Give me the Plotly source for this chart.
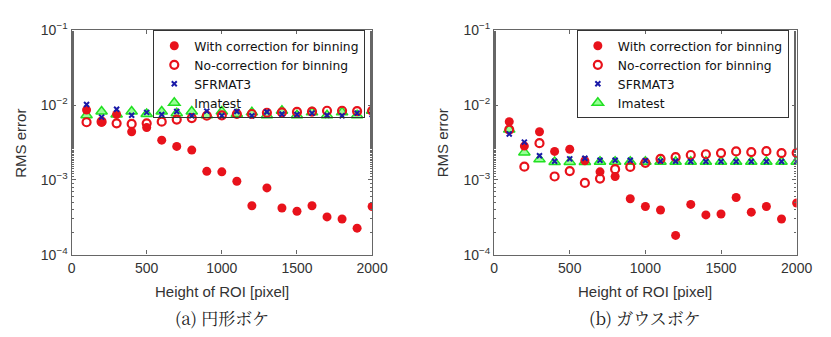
import plotly.graph_objects as go

heights = [100, 200, 300, 400, 500, 600, 700, 800, 900, 1000,
           1100, 1200, 1300, 1400, 1500, 1600, 1700, 1800, 1900, 2000]

# (a) circular blur
a_with = [0.0086, 0.0059, 0.0075, 0.0044, 0.0050, 0.0034, 0.0028, 0.0025, 0.0013, 0.00128,
          0.00096, 0.00045, 0.00078, 0.00042, 0.00038, 0.00045, 0.00032, 0.00030, 0.000226, 0.00044]
a_nocorr = [0.0059, 0.0060, 0.0057, 0.0056, 0.0057, 0.0060, 0.0064, 0.0067, 0.0072, 0.0073,
            0.0076, 0.0076, 0.0079, 0.0080, 0.0081, 0.0082, 0.0084, 0.0084, 0.0083, 0.0084]
a_sfr = [0.0102, 0.0069, 0.0088, 0.0073, 0.0080, 0.0075, 0.0082, 0.0072, 0.0083, 0.0072,
         0.0082, 0.0072, 0.0081, 0.0076, 0.0075, 0.0078, 0.0073, 0.0072, 0.0078, 0.0075]
a_ima = [0.0073, 0.0082, 0.0075, 0.0082, 0.0076, 0.0082, 0.0078, 0.0082, 0.0073, 0.0082,
         0.0076, 0.0080, 0.0073, 0.0084, 0.0073, 0.0080, 0.0073, 0.0080, 0.0073, 0.0084]

# (b) gaussian blur
b_with = [0.0060, 0.00283, 0.0044, 0.0024, 0.00257, 0.0018, 0.00128, 0.00111, 0.00056, 0.00044,
          0.000395, 0.000181, 0.00047, 0.00034, 0.00035, 0.00058, 0.00037, 0.00044, 0.00030, 0.00049]
b_nocorr = [0.0047, 0.0015, 0.0031, 0.00111, 0.00131, 0.00091, 0.00104, 0.00139, 0.00149, 0.00169,
            0.00191, 0.00201, 0.00215, 0.00220, 0.00228, 0.00240, 0.00235, 0.00242, 0.00228, 0.00230]
b_sfr = [0.0041, 0.0032, 0.0021, 0.00177, 0.00191, 0.00195, 0.00183, 0.00183, 0.00183, 0.00181,
         0.00178, 0.00177, 0.00176, 0.00176, 0.00176, 0.00176, 0.00176, 0.00176, 0.00176, 0.00176]
b_ima = [0.0047, 0.00233, 0.00188, 0.00174, 0.00174, 0.00174, 0.00175, 0.00175, 0.00175, 0.00175,
         0.00175, 0.00175, 0.00175, 0.00175, 0.00175, 0.00175, 0.00175, 0.00175, 0.00175, 0.00175]

series_names = ["With correction for binning", "No-correction for binning", "SFRMAT3", "Imatest"]
captions = ["(a) 円形ボケ", "(b) ガウスボケ"]
x_title = "Height of ROI [pixel]"
y_title = "RMS error"
y_tickvals = [1e-4, 1e-3, 1e-2, 1e-1]
y_ticktext = ["10<sup>−4</sup>", "10<sup>−3</sup>", "10<sup>−2</sup>", "10<sup>−1</sup>"]
x_tickvals = [0, 500, 1000, 1500, 2000]

RED = "#e8121b"
BLUE = "#1a1aa8"
GREEN = "#22e022"
TICKFONT = dict(family="Liberation Sans Narrow, Liberation Sans, Arial", size=14, color="#333")
LEGFONT = dict(family="DejaVu Sans, Liberation Sans, Arial", size=12.3, color="#111")

fig = go.Figure()

panels = [
    (a_with, a_nocorr, a_sfr, a_ima, "x", "y", "legend"),
    (b_with, b_nocorr, b_sfr, b_ima, "x2", "y2", "legend2"),
]

for (w, n, s, im, xa, ya, leg) in panels:
    fig.add_trace(go.Scatter(x=heights, y=im, mode="markers", name=series_names[3],
                             xaxis=xa, yaxis=ya, legend=leg, legendrank=4,
                             marker=dict(symbol="triangle-up", size=10, color="rgba(140,255,140,0.9)",
                                         line=dict(color=GREEN, width=1.5))))
    fig.add_trace(go.Scatter(x=heights, y=w, mode="markers", name=series_names[0],
                             xaxis=xa, yaxis=ya, legend=leg, legendrank=1,
                             marker=dict(symbol="circle", size=9, color=RED,
                                         line=dict(color=RED, width=0))))
    fig.add_trace(go.Scatter(x=heights, y=n, mode="markers", name=series_names[1],
                             xaxis=xa, yaxis=ya, legend=leg, legendrank=2,
                             marker=dict(symbol="circle-open", size=8, color=RED,
                                         line=dict(color=RED, width=2.2))))
    fig.add_trace(go.Scatter(x=heights, y=s, mode="markers", name=series_names[2],
                             xaxis=xa, yaxis=ya, legend=leg, legendrank=3,
                             marker=dict(symbol="x-thin", size=5, color=BLUE,
                                         line=dict(color=BLUE, width=2))))

W, H = 831, 337
OFF = 8  # page body margin offsets the figure in the screenshot
def px(x):
    return (x - OFF) / W
def py(y):
    return (H - (y - OFF)) / H

xaxis_common = dict(range=[0, 2000], tickvals=x_tickvals, ticks="inside", ticklen=4,
                    showline=True, linecolor="#666", linewidth=1.3, mirror="ticks",
                    tickcolor="#666", showgrid=False, zeroline=False, tickfont=TICKFONT)
yaxis_common = dict(type="log", range=[-4, -1], tickvals=y_tickvals, ticktext=y_ticktext,
                    ticks="inside", ticklen=4, showline=True, linecolor="#666", linewidth=1.3,
                    mirror="ticks", tickcolor="#666", showgrid=False, zeroline=False,
                    tickfont=TICKFONT,
                    minor=dict(ticks="inside", ticklen=2, tickcolor="#666", showgrid=False))

leg_common = dict(xanchor="right", yanchor="top", bordercolor="#333", borderwidth=1,
                  bgcolor="rgba(255,255,255,0)", font=LEGFONT, tracegroupgap=0, itemwidth=30)

fig.update_layout(
    width=W, height=H,
    margin=dict(l=0, r=0, t=0, b=0),
    paper_bgcolor="white", plot_bgcolor="white",
    xaxis=dict(xaxis_common, domain=[px(69), px(377)], anchor="y"),
    yaxis=dict(yaxis_common, domain=[py(258), py(21)], anchor="x"),
    xaxis2=dict(xaxis_common, domain=[px(502), px(812)], anchor="y2"),
    yaxis2=dict(yaxis_common, domain=[py(258), py(21)], anchor="x2"),
    legend=dict(leg_common, x=px(370), y=py(21)),
    legend2=dict(leg_common, x=px(804), y=py(21)),
    showlegend=True,
)

ann_font = dict(family="Liberation Sans Narrow, Liberation Sans, Arial", size=15, color="#333")
cap_font = dict(family="Noto Serif CJK JP, Liberation Serif, Noto Sans CJK JP", size=17, color="#222")
for cx, ylx, cap in [(223, 17, captions[0]), (657, 450, captions[1])]:
    fig.add_annotation(x=px(cx), y=py(297), xref="paper", yref="paper", text=x_title,
                       showarrow=False, font=ann_font, xanchor="center", yanchor="middle")
    fig.add_annotation(x=px(ylx), y=py(140), xref="paper", yref="paper", text=y_title,
                       showarrow=False, font=ann_font, textangle=-90,
                       xanchor="center", yanchor="middle")
    fig.add_annotation(x=px(cx), y=py(324), xref="paper", yref="paper", text=cap,
                       showarrow=False, font=cap_font, xanchor="center", yanchor="middle")

fig.write_html("out.html")
